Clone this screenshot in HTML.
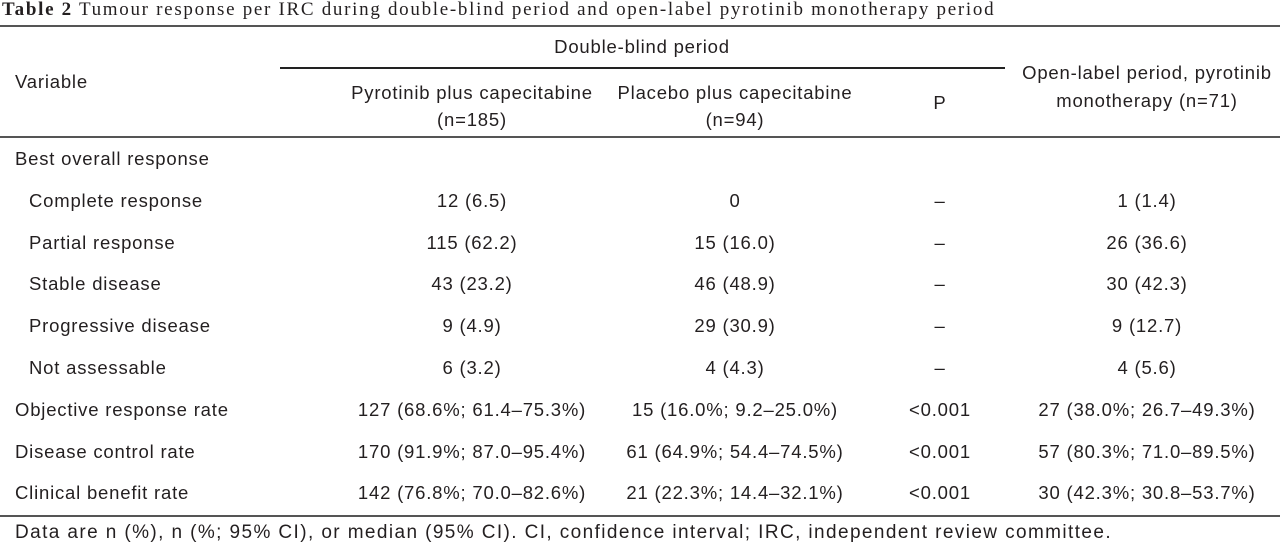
<!DOCTYPE html>
<html><head><meta charset="utf-8"><style>
body{margin:0;width:1280px;height:543px;background:#fff;position:relative;overflow:hidden;font-family:"Liberation Sans",sans-serif;color:#231f20}
.t{position:absolute;font-size:18.5px;letter-spacing:0.8px;white-space:nowrap;line-height:20px}
.c{transform:translateX(-50%);text-align:center}
.ln{position:absolute;height:1.5px;background:#555}
</style></head><body>
<div class="t" style="left:2px;top:0px;font-family:'Liberation Serif',serif;font-size:19px;letter-spacing:1.7px"><b>Table 2</b> Tumour response per IRC during double-blind period and open-label pyrotinib monotherapy period</div>
<div class="ln" style="left:0;width:1280px;top:25px"></div>
<div class="ln" style="left:280px;width:725px;top:67px;background:#222"></div>
<div class="ln" style="left:0;width:1280px;top:136px"></div>
<div class="ln" style="left:0;width:1280px;top:515px"></div>
<div class="t" style="left:15px;top:72px">Variable</div>
<div class="t c" style="left:642px;top:37px">Double-blind period</div>
<div class="t c" style="left:472px;top:79px;line-height:27px">Pyrotinib plus capecitabine<br>(n=185)</div>
<div class="t c" style="left:735px;top:79px;line-height:27px">Placebo plus capecitabine<br>(n=94)</div>
<div class="t c" style="left:940px;top:93px">P</div>
<div class="t c" style="left:1147px;top:59px;line-height:28px">Open-label period, pyrotinib<br>monotherapy (n=71)</div>
<div id="rows"></div>
<div class="t" style="left:15px;top:523px;font-size:19px;letter-spacing:1.4px">Data are n (%), n (%; 95% CI), or median (95% CI). CI, confidence interval; IRC, independent review committee.</div>
<script>
const labels=["Best overall response","Complete response","Partial response","Stable disease","Progressive disease","Not assessable","Objective response rate","Disease control rate","Clinical benefit rate"];
const indent=[0,1,1,1,1,1,0,0,0];
const col1=["","12 (6.5)","115 (62.2)","43 (23.2)","9 (4.9)","6 (3.2)","127 (68.6%; 61.4–75.3%)","170 (91.9%; 87.0–95.4%)","142 (76.8%; 70.0–82.6%)"];
const col2=["","0","15 (16.0)","46 (48.9)","29 (30.9)","4 (4.3)","15 (16.0%; 9.2–25.0%)","61 (64.9%; 54.4–74.5%)","21 (22.3%; 14.4–32.1%)"];
const colP=["","–","–","–","–","–","<0.001","<0.001","<0.001"];
const col4=["","1 (1.4)","26 (36.6)","30 (42.3)","9 (12.7)","4 (5.6)","27 (38.0%; 26.7–49.3%)","57 (80.3%; 71.0–89.5%)","30 (42.3%; 30.8–53.7%)"];
const r=document.getElementById('rows');
function add(txt,x,y,center,name){const d=document.createElement('div');d.className='t'+(center?' c':'');d.style.left=x+'px';d.style.top=y+'px';d.textContent=txt;


r.appendChild(d);}
labels.forEach((l,i)=>{const y=149+i*41.8;
add(l,indent[i]?29:15,y,false,'row-label');
if(col1[i])add(col1[i],472,y,true,'cell-pyrotinib');
if(col2[i])add(col2[i],735,y,true,'cell-placebo');
if(colP[i])add(colP[i],940,y,true,'cell-p');
if(col4[i])add(col4[i],1147,y,true,'cell-open-label');});
</script>
</body></html>
